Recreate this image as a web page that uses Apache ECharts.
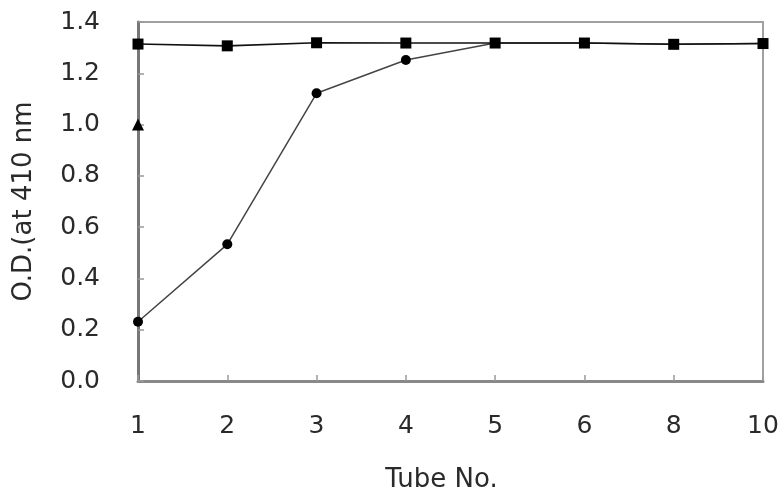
<!DOCTYPE html>
<html>
<head>
<meta charset="utf-8">
<script src="https://cdn.jsdelivr.net/npm/echarts@6/dist/echarts.min.js"></script>
<style>
  html, body { margin: 0; padding: 0; background: #fff; }
  #chart { width: 784px; height: 502px; }
</style>
</head>
<body>
<div id="chart"></div>
<script>
// Tube numbers along the x axis
const tubes = ['1', '2', '3', '4', '5', '6', '8', '10'];
// O.D. readings at 410 nm
const squareSeries = [1.314, 1.307, 1.319, 1.318, 1.318, 1.318, 1.313, 1.316];
const circleSeries = [0.231, 0.533, 1.122, 1.252, 1.318, 1.318, 1.313, 1.316];
const triangleSeries = [1.0, null, null, null, null, null, null, null];
const yTicks = { min: 0, max: 1.4, interval: 0.2 };

const font = 'DejaVu Sans';
const textColor = '#2a2a2a';

const chart = echarts.init(document.getElementById('chart'), null, { renderer: 'canvas' });
chart.setOption({
  backgroundColor: '#fff',
  animation: false,
  grid: {
    left: 138, right: 21, top: 22, bottom: 121,
    show: true, borderColor: '#a0a0a0', borderWidth: 2, backgroundColor: 'transparent'
  },
  xAxis: {
    type: 'category',
    data: tubes,
    boundaryGap: false,
    name: 'Tube No.',
    nameLocation: 'middle',
    nameGap: 86,
    nameTextStyle: { fontFamily: font, fontSize: 26, color: textColor, padding: [0, 18, 0, 0] },
    axisLine: { lineStyle: { color: '#888', width: 3 } },
    axisTick: { inside: true, length: 6, lineStyle: { color: '#999', width: 1.5 } },
    axisLabel: { fontFamily: font, fontSize: 25, color: textColor, margin: 33 },
    splitLine: { show: false }
  },
  yAxis: {
    type: 'value',
    min: yTicks.min, max: yTicks.max, interval: yTicks.interval,
    name: 'O.D.(at 410 nm',
    nameLocation: 'middle',
    nameGap: 101,
    nameTextStyle: { fontFamily: font, fontSize: 26, color: textColor },
    axisLine: { show: true, lineStyle: { color: '#777', width: 3 } },
    axisTick: { show: true, inside: true, length: 6, lineStyle: { color: '#999', width: 1.5 } },
    axisLabel: {
      fontFamily: font, fontSize: 25, color: textColor, margin: 38,
      formatter: v => v.toFixed(1)
    },
    splitLine: { show: false }
  },
  series: [
    {
      name: 'circle', type: 'line', data: circleSeries,
      symbol: 'circle', symbolSize: 10,
      itemStyle: { color: '#000' },
      lineStyle: { color: '#444', width: 1.5 },
      z: 2
    },
    {
      name: 'square', type: 'line', data: squareSeries,
      symbol: 'rect', symbolSize: 11,
      itemStyle: { color: '#000' },
      lineStyle: { color: '#111', width: 1.6 },
      z: 3
    },
    {
      name: 'triangle', type: 'line', data: triangleSeries,
      symbol: 'triangle', symbolSize: 12,
      itemStyle: { color: '#000' },
      lineStyle: { width: 0 },
      z: 4
    }
  ]
});
</script>
</body>
</html>
